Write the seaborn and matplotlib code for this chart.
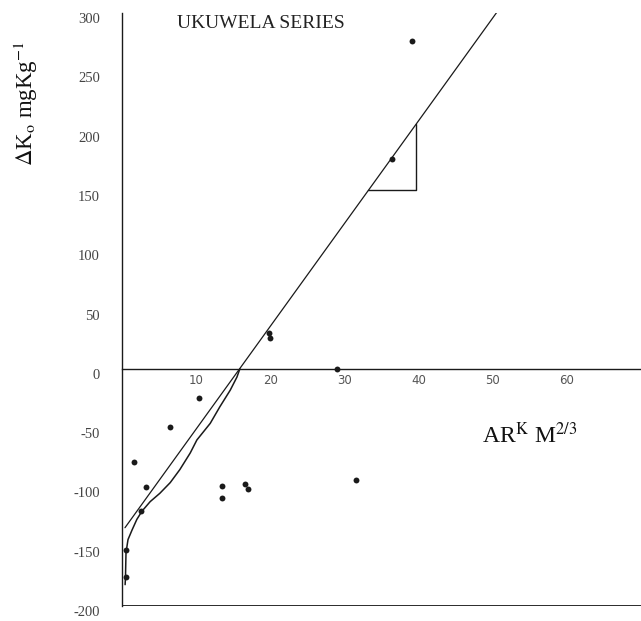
import matplotlib
matplotlib.use("Agg")
import matplotlib.pyplot as plt
import matplotlib.transforms as mtransforms
import seaborn as sns
import pandas as pd

# ---- data ----
point_x = [39.1, 36.4, 19.8, 20.0, 29.0, 10.4, 6.5, 1.6, 3.2, 2.6, 13.5, 13.5, 16.6, 17.0, 0.5, 0.5, 31.6]
point_y = [276, 177, 30, 26, 0, -24.5, -49, -79, -99.6, -120, -98.7, -109, -97, -101, -153, -175.5, -94]

line_x = [0.4, 50.6]
line_y = [-134, 301]

curve_x = [0.42, 0.47, 0.54, 0.81, 1.35, 2.0, 2.7, 3.8, 5.1, 6.5, 7.8, 9.2, 10.1, 11.9, 13.2, 14.6, 15.5, 15.9]
curve_y = [-182, -175.5, -155, -144, -136, -127, -120, -112, -105, -96, -85, -71, -60, -46, -32, -18, -7, 0]

tri_x = [33.2, 39.7, 39.7]
tri_y = [151, 151, 206]

x_ticks = [10, 20, 30, 40, 50, 60]
y_ticks = [300, 250, 200, 150, 100, 50, 0, -50, -100, -150, -200]

title_text = "UKUWELA SERIES"
ylabel_text = r"$\Delta$K$_{\mathrm{o}}$ mgKg$^{\mathrm{-1}}$"
xlabel_text = r"AR$^{\mathrm{K}}$ M$^{\mathrm{2/3}}$"

# ---- style ----
sns.set_theme(style="white")
plt.rcParams["font.family"] = ["Liberation Serif", "DejaVu Serif"]
plt.rcParams["mathtext.fontset"] = "stix"

fig = plt.figure(figsize=(6.41, 6.21), dpi=100)
ax = fig.add_axes([122 / 641, 15 / 621, 1 - 122 / 641, (606 - 13) / 621])

ink = "#1a1a1a"
pts = pd.DataFrame({"x": point_x, "y": point_y})
sns.scatterplot(data=pts, x="x", y="y", ax=ax, s=18, color=ink, edgecolor=ink, linewidth=0, zorder=5)

ln = pd.DataFrame({"x": line_x, "y": line_y})
sns.lineplot(data=ln, x="x", y="y", ax=ax, color=ink, linewidth=0.9, sort=False, estimator=None)
cv = pd.DataFrame({"x": curve_x, "y": curve_y})
sns.lineplot(data=cv, x="x", y="y", ax=ax, color=ink, linewidth=1.1, sort=False, estimator=None)
ax.plot(tri_x, tri_y, color=ink, linewidth=1.0)

ax.axhline(-200, color=ink, linewidth=1.3, zorder=1)

ax.set_xlim(0, 70)
ax.set_ylim(-200, 300)

for s in ["top", "right"]:
    ax.spines[s].set_visible(False)
ax.spines["bottom"].set_position(("data", 0))
ax.spines["bottom"].set_color(ink)
ax.spines["bottom"].set_linewidth(1.0)
ax.spines["left"].set_color(ink)
ax.spines["left"].set_linewidth(1.0)

ax.set_xticks(x_ticks)
ax.set_xticklabels([str(t) for t in x_ticks], family=["DejaVu Sans"], fontsize=8.5, color="#555555")
ax.set_yticks(y_ticks)
ax.set_yticklabels([str(t) for t in y_ticks], fontsize=10.5, color="#444444")
ax.tick_params(axis="x", length=0, pad=4)
ax.tick_params(axis="y", length=0, pad=16)
off = mtransforms.ScaledTranslation(0, -5 / 100, fig.dpi_scale_trans)
for lab in ax.get_yticklabels():
    lab.set_transform(lab.get_transform() + off)

ax.set_xlabel("")
ax.set_ylabel("")

fig.text(177 / 641, 1 - 24 / 621, title_text, fontsize=14, color="#222222", va="center", ha="left")
fig.text(26 / 641, 1 - 104 / 621, ylabel_text, fontsize=16.5, rotation=90, va="center", ha="center", color="#111111")
fig.text(530 / 641, 1 - 435 / 621, xlabel_text, fontsize=17, va="center", ha="center", color="#111111")

fig.savefig("out.png", dpi=100)
